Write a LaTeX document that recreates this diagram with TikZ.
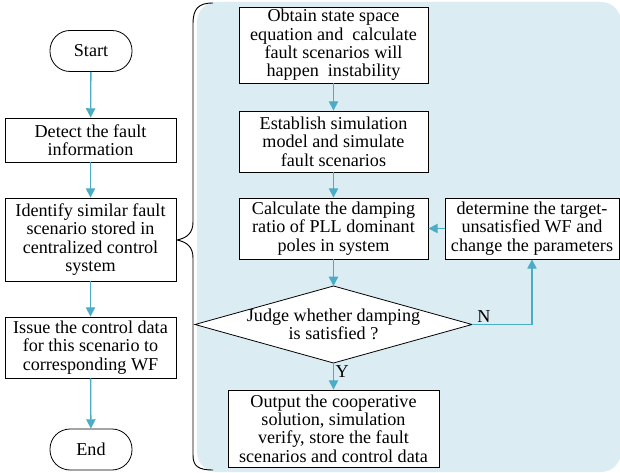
\documentclass[tikz,border=0pt]{standalone}
\usepackage{fontspec}
\setmainfont{Liberation Serif}
\usetikzlibrary{positioning, arrows.meta, calc}

\definecolor{panel}{RGB}{219,236,242}
\definecolor{flow}{RGB}{75,172,198}

\begin{document}
\begin{tikzpicture}[x=0.75pt, y=-0.75pt,
	box/.style={draw, fill=white, line width=0.6pt, align=center, inner sep=0.5pt,
		font=\fontsize{13.6}{13.8}\selectfont},
	term/.style={box, rounded corners=15pt, minimum width=61.5pt, minimum height=30.75pt},
	leftbox/.style={box, minimum width=128.25pt},
	flowline/.style={flow, line width=1pt, -{Triangle[length=7pt, width=7pt]}},
	tag/.style={text=black, font=\fontsize{13.6}{13.8}\selectfont, inner sep=1pt}]
	\useasboundingbox (0,0) rectangle (620,473);
	% shaded panel and brace
	\fill[panel, rounded corners=15pt] (197,2) rectangle (621,472);
	\draw[line width=0.7pt] (213,3) .. controls (198,3) and (193,9) .. (193,24) -- (193,222)
		.. controls (193,233) and (187,238) .. (177,240)
		.. controls (187,242) and (193,247) .. (193,258) -- (193,455)
		.. controls (193,466) and (198,470) .. (213,470);

	% left column
	\node[term] (start) at (91,51) {Start};
	\node[leftbox, minimum height=33pt] (detect) at (90.5,140) {Detect the fault\\information};
	\node[leftbox, minimum height=62.25pt] (identify) at (90.5,239.5)
		{Identify similar fault\\scenario stored in\\centralized control\\system};
	\node[leftbox, minimum height=45.75pt] (issue) at (90.5,347.5)
		{Issue the control data\\for this scenario to\\corresponding WF};
	\node[term] (finish) at (91,449.5) {End};

	% right column
	\node[box, minimum width=141.75pt, minimum height=57pt] (obtain) at (333.5,45)
		{Obtain state space\\equation and\ \ calculate\\fault scenarios will\\happen\ \ instability};
	\node[box, minimum width=141.75pt, minimum height=45.75pt] (establish) at (333.5,141.5)
		{Establish simulation\\model and simulate\\fault scenarios};
	\node[box, minimum width=141.75pt, minimum height=45.75pt] (calc) at (333.5,228.5)
		{Calculate the damping\\ratio of PLL dominant\\poles in system};
	\node[box, minimum width=130.5pt, minimum height=45.75pt] (adjust) at (532,228.5)
		{determine the target-\\unsatisfied WF and\\change the parameters};
	\coordinate (dt) at (333.5,286);
	\coordinate (dr) at (472,324.5);
	\coordinate (db) at (333.5,363);
	\coordinate (dl) at (195,324.5);
	\draw[fill=white, line width=0.6pt] (dt) -- (dr) -- (db) -- (dl) -- cycle;
	\node[tag, align=center] (judge) at (333.5,324.5) {Judge whether damping\\is satisfied ?};
	\node[box, minimum width=158.25pt, minimum height=57.75pt] (output) at (333.5,428.5)
		{Output the cooperative\\solution, simulation\\verify, store the fault\\scenarios and control data};

	% connectors
	\draw[flowline] (start) -- (detect);
	\draw[flowline] (detect) -- (identify);
	\draw[flowline] (identify) -- (issue);
	\draw[flowline] (issue) -- (finish);
	\draw[flowline] (obtain) -- (establish);
	\draw[flowline] (establish) -- (calc);
	\draw[flowline] (calc) -- (dt);
	\draw[flowline] (db) -- node[tag, right, pos=0.33] {Y} (output);
	\draw[flowline] (dr) -| node[tag, above, pos=0.1] {N} (adjust.south);
	\draw[flowline] (adjust) -- (calc);
\end{tikzpicture}
\end{document}
